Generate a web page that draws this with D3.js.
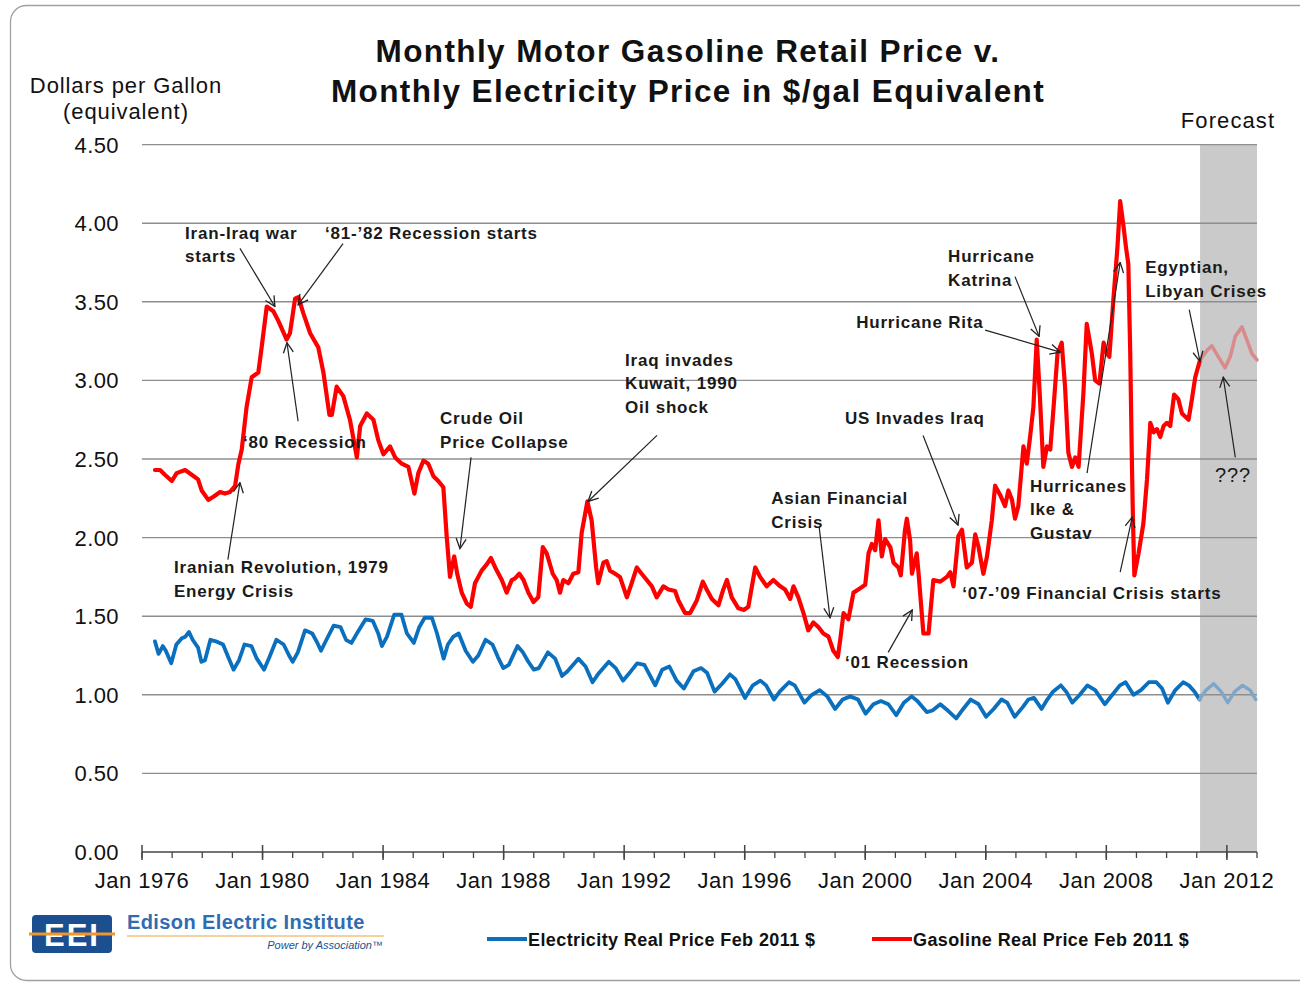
<!DOCTYPE html>
<html>
<head>
<meta charset="utf-8">
<title>Monthly Motor Gasoline Retail Price v. Monthly Electricity Price</title>
<script src="https://d3js.org/d3.v7.min.js"></script>
<style>
    body { margin: 0; background: #fff; }
    svg { display: block; font-family: "Liberation Sans", Arial, sans-serif; }
</style>
</head>
<body>
<svg id="chart" width="1300" height="984"></svg>
<script>
// values: [decimal year, $/gal real Feb 2011]
const gasoline = [
    [1976.43,2.43],[1976.60,2.43],[1976.76,2.40],[1976.99,2.36],[1977.15,2.41],[1977.43,2.43],[1977.65,2.40],[1977.86,2.37],
    [1977.98,2.30],[1978.20,2.24],[1978.37,2.26],[1978.59,2.29],[1978.75,2.28],[1978.92,2.29],[1979.09,2.33],[1979.20,2.47],
    [1979.31,2.56],[1979.47,2.83],[1979.64,3.02],[1979.86,3.05],[1979.97,3.21],[1980.14,3.47],[1980.36,3.44],[1980.52,3.38],
    [1980.80,3.26],[1980.91,3.30],[1981.08,3.52],[1981.19,3.53],[1981.35,3.43],[1981.58,3.30],[1981.85,3.21],[1982.02,3.05],
    [1982.22,2.78],[1982.30,2.78],[1982.46,2.96],[1982.68,2.90],[1982.90,2.75],[1983.13,2.51],[1983.24,2.71],[1983.46,2.79],
    [1983.68,2.75],[1983.84,2.62],[1984.01,2.53],[1984.23,2.58],[1984.40,2.51],[1984.62,2.47],[1984.84,2.45],[1985.04,2.28],
    [1985.17,2.41],[1985.34,2.49],[1985.50,2.47],[1985.67,2.39],[1985.83,2.36],[1986.00,2.32],[1986.11,2.01],[1986.22,1.75],
    [1986.36,1.88],[1986.46,1.77],[1986.61,1.65],[1986.78,1.58],[1986.91,1.56],[1987.05,1.71],[1987.27,1.79],[1987.44,1.83],
    [1987.58,1.87],[1987.72,1.81],[1987.94,1.73],[1988.10,1.65],[1988.27,1.73],[1988.38,1.74],[1988.52,1.77],[1988.66,1.73],
    [1988.82,1.65],[1988.99,1.59],[1989.15,1.62],[1989.30,1.94],[1989.43,1.90],[1989.63,1.77],[1989.76,1.73],[1989.87,1.65],
    [1989.98,1.73],[1990.15,1.71],[1990.31,1.77],[1990.48,1.78],[1990.59,2.03],[1990.78,2.23],[1990.92,2.11],[1991.07,1.81],
    [1991.14,1.71],[1991.31,1.84],[1991.42,1.85],[1991.53,1.79],[1991.70,1.77],[1991.86,1.75],[1992.09,1.62],[1992.25,1.71],
    [1992.42,1.81],[1992.58,1.77],[1992.75,1.73],[1992.92,1.69],[1993.08,1.62],[1993.30,1.69],[1993.47,1.67],[1993.69,1.66],
    [1993.80,1.60],[1994.02,1.52],[1994.19,1.52],[1994.41,1.60],[1994.61,1.72],[1994.74,1.67],[1994.91,1.61],[1995.13,1.57],
    [1995.29,1.67],[1995.41,1.73],[1995.57,1.62],[1995.79,1.55],[1995.98,1.54],[1996.12,1.56],[1996.35,1.81],[1996.51,1.75],
    [1996.73,1.69],[1996.95,1.73],[1997.18,1.69],[1997.34,1.67],[1997.51,1.61],[1997.62,1.69],[1997.78,1.62],[1997.95,1.52],
    [1998.11,1.41],[1998.28,1.46],[1998.45,1.43],[1998.61,1.39],[1998.78,1.37],[1998.94,1.28],[1999.09,1.24],[1999.17,1.35],
    [1999.28,1.52],[1999.44,1.48],[1999.61,1.65],[1999.77,1.67],[2000.00,1.70],[2000.11,1.90],[2000.22,1.96],[2000.33,1.92],
    [2000.44,2.11],[2000.55,1.88],[2000.66,1.99],[2000.83,1.94],[2000.94,1.84],[2001.10,1.81],[2001.18,1.76],[2001.32,2.05],
    [2001.38,2.12],[2001.49,1.98],[2001.55,1.77],[2001.71,1.90],[2001.77,1.77],[2001.93,1.39],[2002.10,1.39],[2002.26,1.73],
    [2002.49,1.72],[2002.71,1.75],[2002.82,1.78],[2002.93,1.69],[2003.09,2.01],[2003.21,2.05],[2003.37,1.81],[2003.54,1.84],
    [2003.65,2.02],[2003.76,1.94],[2003.92,1.77],[2004.04,1.88],[2004.20,2.11],[2004.31,2.33],[2004.48,2.27],[2004.64,2.20],
    [2004.75,2.30],[2004.87,2.24],[2004.97,2.12],[2005.08,2.20],[2005.25,2.58],[2005.36,2.47],[2005.47,2.64],[2005.58,2.83],
    [2005.69,3.26],[2005.80,2.88],[2005.91,2.45],[2006.03,2.58],[2006.14,2.56],[2006.25,2.83],[2006.38,3.17],[2006.52,3.24],
    [2006.63,2.96],[2006.74,2.54],[2006.86,2.45],[2006.97,2.51],[2007.08,2.45],[2007.24,2.92],[2007.35,3.36],[2007.52,3.17],
    [2007.63,3.00],[2007.77,2.98],[2007.91,3.24],[2008.02,3.17],[2008.10,3.15],[2008.24,3.53],[2008.37,3.85],[2008.46,4.14],
    [2008.57,3.98],[2008.65,3.85],[2008.73,3.74],[2008.79,3.21],[2008.85,2.47],[2008.88,2.15],[2008.93,1.76],[2009.07,1.90],
    [2009.23,2.09],[2009.35,2.37],[2009.46,2.73],[2009.57,2.67],[2009.68,2.69],[2009.79,2.64],[2009.90,2.71],[2010.01,2.73],
    [2010.12,2.71],[2010.25,2.91],[2010.39,2.88],[2010.51,2.79],[2010.73,2.75],[2010.84,2.88],[2010.95,3.02],[2011.11,3.13]
];
const gasolineForecast = [
    [2011.11,3.13],[2011.34,3.19],[2011.50,3.22],[2011.72,3.15],[2011.94,3.08],[2012.11,3.15],
    [2012.28,3.28],[2012.50,3.34],[2012.66,3.26],[2012.83,3.17],[2013.00,3.13]
];
const electricity = [
    [1976.43,1.34],[1976.55,1.26],[1976.69,1.31],[1976.79,1.28],[1976.97,1.20],[1977.14,1.32],[1977.32,1.36],[1977.44,1.37],
    [1977.56,1.40],[1977.68,1.35],[1977.86,1.30],[1977.97,1.21],[1978.09,1.22],[1978.27,1.35],[1978.45,1.34],[1978.69,1.32],
    [1978.86,1.24],[1979.04,1.16],[1979.22,1.22],[1979.40,1.32],[1979.63,1.31],[1979.81,1.23],[1980.05,1.16],[1980.23,1.24],
    [1980.46,1.35],[1980.70,1.32],[1980.88,1.25],[1981.00,1.21],[1981.17,1.27],[1981.41,1.41],[1981.65,1.39],[1981.82,1.33],
    [1981.94,1.28],[1982.12,1.35],[1982.36,1.44],[1982.59,1.43],[1982.77,1.35],[1982.95,1.33],[1983.13,1.39],[1983.42,1.48],
    [1983.66,1.47],[1983.84,1.39],[1983.96,1.31],[1984.13,1.37],[1984.37,1.51],[1984.61,1.51],[1984.79,1.39],[1985.02,1.33],
    [1985.20,1.43],[1985.38,1.49],[1985.62,1.49],[1985.79,1.39],[1986.01,1.23],[1986.15,1.32],[1986.33,1.37],[1986.51,1.39],
    [1986.74,1.28],[1986.98,1.21],[1987.16,1.25],[1987.40,1.35],[1987.63,1.32],[1987.81,1.24],[1987.99,1.17],[1988.17,1.19],
    [1988.46,1.31],[1988.64,1.27],[1988.82,1.21],[1989.00,1.16],[1989.17,1.17],[1989.47,1.27],[1989.71,1.23],[1989.94,1.12],
    [1990.12,1.15],[1990.48,1.23],[1990.72,1.18],[1990.95,1.08],[1991.13,1.13],[1991.49,1.21],[1991.72,1.17],[1991.96,1.09],
    [1992.14,1.13],[1992.43,1.20],[1992.67,1.19],[1993.03,1.06],[1993.26,1.16],[1993.50,1.18],[1993.74,1.09],[1993.98,1.04],
    [1994.30,1.15],[1994.55,1.17],[1994.75,1.14],[1995.00,1.02],[1995.25,1.07],[1995.51,1.13],[1995.69,1.10],[1996.01,0.98],
    [1996.27,1.06],[1996.52,1.09],[1996.71,1.06],[1996.97,0.97],[1997.16,1.02],[1997.47,1.08],[1997.66,1.06],[1997.98,0.95],
    [1998.23,1.00],[1998.49,1.03],[1998.74,0.99],[1999.00,0.91],[1999.25,0.97],[1999.50,0.99],[1999.76,0.97],[2000.01,0.88],
    [2000.27,0.94],[2000.52,0.96],[2000.77,0.94],[2001.03,0.87],[2001.28,0.95],[2001.54,0.99],[2001.73,0.96],[2002.04,0.89],
    [2002.23,0.90],[2002.49,0.94],[2002.74,0.90],[2003.02,0.85],[2003.25,0.91],[2003.50,0.97],[2003.76,0.94],[2004.01,0.86],
    [2004.26,0.91],[2004.52,0.97],[2004.71,0.95],[2004.96,0.86],[2005.22,0.92],[2005.41,0.97],[2005.60,0.98],[2005.85,0.91],
    [2006.04,0.97],[2006.23,1.02],[2006.49,1.06],[2006.67,1.02],[2006.87,0.95],[2007.12,1.00],[2007.37,1.06],[2007.63,1.03],
    [2007.95,0.94],[2008.20,1.00],[2008.45,1.06],[2008.64,1.08],[2008.90,1.00],[2009.15,1.03],[2009.41,1.08],[2009.66,1.08],
    [2009.85,1.04],[2010.04,0.95],[2010.29,1.03],[2010.55,1.08],[2010.74,1.06],[2010.93,1.02],[2011.09,0.97]
];
const electricityForecast = [
    [2011.09,0.97],[2011.31,1.03],[2011.56,1.07],[2011.81,1.02],[2012.03,0.95],
    [2012.26,1.02],[2012.52,1.06],[2012.77,1.03],[2012.96,0.97]
];

const yTicks = [0, 0.5, 1, 1.5, 2, 2.5, 3, 3.5, 4, 4.5];
const xLabelYears = [1976, 1980, 1984, 1988, 1992, 1996, 2000, 2004, 2008, 2012];
const forecastSpan = [2011.11, 2013];
const titleLines = ["Monthly Motor Gasoline Retail Price v.", "Monthly Electricity Price in $/gal Equivalent"];
const yLabelLines = ["Dollars per Gallon", "(equivalent)"];
const legendLabels = ["Electricity Real Price Feb 2011 $", "Gasoline Real Price Feb 2011 $"];

// annotations: text anchor (year, value) and arrow from -> to in data units
const notes = [
    { lines: ["Iran-Iraq war", "starts"], at: [1977.43, 3.94], arrow: [1979.25, 3.84, 1980.41, 3.47] },
    { lines: ["\u201881-\u201982 Recession starts"], at: [1982.07, 3.94], arrow: [1982.67, 3.87, 1981.18, 3.48] },
    { lines: ["\u201880 Recession"], at: [1979.35, 2.61], arrow: [1981.18, 2.74, 1980.81, 3.24] },
    { lines: ["Iranian Revolution, 1979", "Energy Crisis"], at: [1977.06, 1.81], arrow: [1978.85, 1.86, 1979.25, 2.35] },
    { lines: ["Crude Oil", "Price Collapse"], at: [1985.89, 2.76], arrow: [1986.92, 2.51, 1986.55, 1.93] },
    { lines: ["Iraq invades", "Kuwait, 1990", "Oil shock"], at: [1992.03, 3.13], arrow: [1993.09, 2.65, 1990.80, 2.23] },
    { lines: ["Asian Financial", "Crisis"], at: [1996.88, 2.25], arrow: [1998.47, 2.07, 1998.83, 1.49] },
    { lines: ["US Invades Iraq"], at: [1999.33, 2.76], arrow: [2001.92, 2.65, 2003.08, 2.08] },
    { lines: ["\u201801 Recession"], at: [1999.33, 1.21], arrow: [2000.76, 1.27, 2001.56, 1.54] },
    { lines: ["Hurricane", "Katrina"], at: [2002.75, 3.79], arrow: [2004.97, 3.66, 2005.77, 3.28] },
    { lines: ["Hurricane Rita"], at: [1999.70, 3.37], arrow: [2003.98, 3.32, 2006.47, 3.18] },
    { lines: ["Hurricanes", "Ike &", "Gustav"], at: [2005.47, 2.33], arrow: [2007.36, 2.41, 2008.46, 3.75] },
    { lines: ["\u201807-\u201909 Financial Crisis starts"], at: [2003.22, 1.65], arrow: [2008.46, 1.78, 2008.86, 2.13] },
    { lines: ["Egyptian,", "Libyan Crises"], at: [2009.29, 3.72], arrow: [2010.75, 3.45, 2011.11, 3.12] },
    { lines: ["???"], at: [2011.61, 2.39], arrow: [2012.28, 2.51, 2011.88, 3.02], plain: true }
];

const svg = d3.select("#chart");
const x = d3.scaleLinear().domain([1976, 2013]).range([142, 1257]);
const y = d3.scaleLinear().domain([0, 4.5]).range([852, 144.6]);

// frame
svg.append("rect").attr("x", 10.5).attr("y", 5.5).attr("width", 1320).attr("height", 975)
    .attr("rx", 16).attr("fill", "none").attr("stroke", "#a0a0a0").attr("stroke-width", 1.3);

// title
svg.append("g").selectAll("text").data(titleLines).join("text")
    .attr("x", 688).attr("y", (d, i) => 62 + i * 40)
    .attr("text-anchor", "middle").attr("font-size", 31.5).attr("font-weight", "bold")
    .attr("letter-spacing", 1.4).attr("fill", "#111").text(d => d);

svg.append("g").selectAll("text").data(yLabelLines).join("text")
    .attr("x", 126).attr("y", (d, i) => 93 + i * 26)
    .attr("text-anchor", "middle").attr("font-size", 22).attr("letter-spacing", 0.9)
    .attr("fill", "#111").text(d => d);

svg.append("text").attr("x", 1228).attr("y", 128).attr("text-anchor", "middle")
    .attr("font-size", 22).attr("letter-spacing", 1.1).attr("fill", "#111").text("Forecast");

// forecast band
svg.append("rect").attr("x", x(forecastSpan[0])).attr("y", y(4.5))
    .attr("width", x(forecastSpan[1]) - x(forecastSpan[0])).attr("height", y(0) - y(4.5))
    .attr("fill", "#cacaca");

// grid
svg.append("g").selectAll("line").data(yTicks.filter(v => v > 0)).join("line")
    .attr("x1", x(1976)).attr("x2", x(2013)).attr("y1", d => y(d)).attr("y2", d => y(d))
    .attr("stroke", "#8e8e8e").attr("stroke-width", 1.4);

svg.append("g").selectAll("text").data(yTicks).join("text")
    .attr("x", 119).attr("y", d => y(d) + 8).attr("text-anchor", "end")
    .attr("font-size", 22).attr("letter-spacing", 0.4).attr("fill", "#111")
    .text(d3.format(".2f"));

// x axis
const xa = svg.append("g");
xa.append("line").attr("x1", x(1976)).attr("x2", x(2013)).attr("y1", y(0)).attr("y2", y(0))
    .attr("stroke", "#444").attr("stroke-width", 1.6);
xa.selectAll(".minor").data(d3.range(1976, 2014)).join("line")
    .attr("x1", d => x(d)).attr("x2", d => x(d)).attr("y1", y(0)).attr("y2", y(0) + 6)
    .attr("stroke", "#444").attr("stroke-width", 1.3);
xa.selectAll(".major").data(xLabelYears).join("line")
    .attr("x1", d => x(d)).attr("x2", d => x(d)).attr("y1", y(0) - 7).attr("y2", y(0) + 8)
    .attr("stroke", "#444").attr("stroke-width", 1.5);
xa.selectAll("text").data(xLabelYears).join("text")
    .attr("x", d => x(d)).attr("y", 888).attr("text-anchor", "middle")
    .attr("font-size", 22).attr("letter-spacing", 0.5).attr("fill", "#111")
    .text(d => "Jan " + d);

// series
const line = d3.line().x(d => x(d[0])).y(d => y(d[1]));
const series = [
    { data: electricity, color: "#0a6fbd", w: 3.8 },
    { data: electricityForecast, color: "#7fa6c6", w: 3.4 },
    { data: gasoline, color: "#ff0000", w: 4.2 },
    { data: gasolineForecast, color: "#d98b8b", w: 3.6 }
];
svg.append("g").selectAll("path").data(series).join("path")
    .attr("d", d => line(d.data)).attr("fill", "none")
    .attr("stroke", d => d.color).attr("stroke-width", d => d.w)
    .attr("stroke-linejoin", "round").attr("stroke-linecap", "round");

// annotations
svg.append("defs").append("marker").attr("id", "head")
    .attr("viewBox", "0 0 12 12").attr("refX", 11).attr("refY", 6)
    .attr("markerWidth", 12).attr("markerHeight", 12).attr("markerUnits", "userSpaceOnUse")
    .attr("orient", "auto")
    .append("path").attr("d", "M1,1 L11,6 L1,11").attr("fill", "none")
    .attr("stroke", "#222").attr("stroke-width", 1.3);

const ng = svg.append("g");
ng.selectAll("line").data(notes).join("line")
    .attr("x1", d => x(d.arrow[0])).attr("y1", d => y(d.arrow[1]))
    .attr("x2", d => x(d.arrow[2])).attr("y2", d => y(d.arrow[3]))
    .attr("stroke", "#222").attr("stroke-width", 1.2).attr("marker-end", "url(#head)");

notes.forEach(n => {
    n.lines.forEach((t, i) => {
        ng.append("text").attr("x", x(n.at[0])).attr("y", y(n.at[1]) + 6 + i * 23.5)
            .attr("font-size", n.plain ? 20 : 17).attr("font-weight", n.plain ? "normal" : "bold")
            .attr("letter-spacing", 0.8).attr("fill", "#1a1a1a").text(t);
    });
});

// legend
const leg = svg.append("g");
const legendItems = [
    { label: legendLabels[0], color: "#0a6fbd", x0: 487 },
    { label: legendLabels[1], color: "#ff0000", x0: 872 }
];
leg.selectAll("line").data(legendItems).join("line")
    .attr("x1", d => d.x0).attr("x2", d => d.x0 + 40).attr("y1", 939).attr("y2", 939)
    .attr("stroke", d => d.color).attr("stroke-width", 4);
leg.selectAll("text").data(legendItems).join("text")
    .attr("x", d => d.x0 + 41).attr("y", 946)
    .attr("font-size", 18).attr("font-weight", "bold").attr("letter-spacing", 0.4)
    .attr("fill", "#111").text(d => d.label);

// EEI logo
const logo = svg.append("g");
logo.append("rect").attr("x", 32).attr("y", 915).attr("width", 80).attr("height", 38)
    .attr("rx", 4).attr("fill", "#1c4f8f");
logo.append("text").attr("x", 72).attr("y", 946).attr("text-anchor", "middle")
    .attr("font-size", 31).attr("font-weight", "bold")
    .attr("letter-spacing", 2).attr("fill", "#fff").text("EEI");
logo.append("line").attr("x1", 29).attr("x2", 115).attr("y1", 934).attr("y2", 934)
    .attr("stroke", "#f0962a").attr("stroke-width", 3);
logo.append("text").attr("x", 127).attr("y", 929)
    .attr("font-size", 20).attr("font-weight", "bold").attr("letter-spacing", 0.4)
    .attr("fill", "#2f6db3").text("Edison Electric Institute");
logo.append("line").attr("x1", 127).attr("x2", 384).attr("y1", 936).attr("y2", 936)
    .attr("stroke", "#f2c27a").attr("stroke-width", 1.5);
logo.append("text").attr("x", 383).attr("y", 949).attr("text-anchor", "end")
    .attr("font-size", 11).attr("font-style", "italic")
    .attr("fill", "#1c4f8f").text("Power by Association\u2122");
</script>
</body>
</html>
